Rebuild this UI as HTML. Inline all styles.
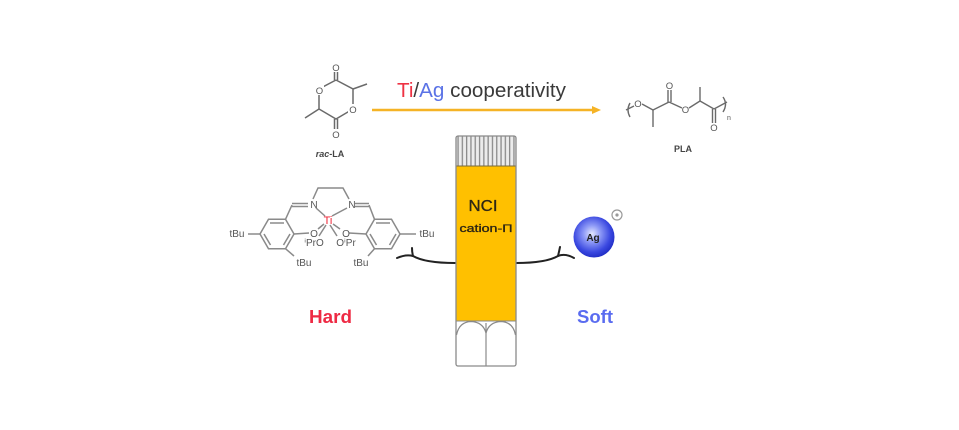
<!DOCTYPE html>
<html><head><meta charset="utf-8"><style>
html,body{margin:0;padding:0;background:#fff;}
svg{display:block;}
text{font-family:"Liberation Sans",sans-serif;}
</style></head><body>
<svg width="959" height="430" viewBox="0 0 959 430" xmlns="http://www.w3.org/2000/svg">
<defs>
<pattern id="hatch" x="456" y="0" width="4.3" height="10" patternUnits="userSpaceOnUse">
<rect width="4.3" height="10" fill="#ececec"/>
<rect x="1.4" width="1.3" height="10" fill="#8a8a8a"/>
</pattern>
<radialGradient id="ag" cx="45%" cy="42%" r="60%">
<stop offset="0" stop-color="#e4e8ff"/>
<stop offset="0.35" stop-color="#8c98f6"/>
<stop offset="0.75" stop-color="#3a48e0"/>
<stop offset="1" stop-color="#1f2cc4"/>
</radialGradient>
</defs>
<rect width="959" height="430" fill="#fff"/>

<!-- rac-LA -->
<g stroke="#6a6a6a" stroke-width="1.5" fill="none">
<polyline points="336,80 353,89 353,109 336,119 319,109 319,89 336,80"/>
<line x1="334.5" y1="80" x2="334.5" y2="70"/><line x1="337.5" y1="80" x2="337.5" y2="70"/>
<line x1="334.5" y1="119" x2="334.5" y2="130"/><line x1="337.5" y1="119" x2="337.5" y2="130"/>
<line x1="353" y1="89" x2="367" y2="84"/>
<line x1="319" y1="109" x2="305" y2="118"/>
</g>
<g font-size="9.5" fill="#555" text-anchor="middle">
<rect x="331" y="62" width="10" height="10" fill="#fff"/>
<text x="336" y="71">O</text>
<rect x="331" y="129" width="10" height="10" fill="#fff"/>
<text x="336" y="138">O</text>
<rect x="315" y="85" width="9" height="10" fill="#fff"/>
<text x="319.5" y="94">O</text>
<rect x="348" y="104" width="10" height="10" fill="#fff"/>
<text x="353" y="113">O</text>
</g>
<text x="330" y="157" font-size="9" font-weight="bold" fill="#444" text-anchor="middle"><tspan font-style="italic">rac</tspan>-LA</text>

<!-- arrow -->
<line x1="372" y1="110" x2="594" y2="110" stroke="#F5B325" stroke-width="2.5"/>
<polygon points="601,110 592,106 592,114" fill="#F5B325"/>
<text x="397" y="97" font-size="20" textLength="169" lengthAdjust="spacingAndGlyphs" fill="#3a3a3a"><tspan fill="#ee3344">Ti</tspan>/<tspan fill="#5a72e6">Ag</tspan> cooperativity</text>

<!-- PLA -->
<g stroke="#6a6a6a" stroke-width="1.4" fill="none">
<path d="M630,103 Q626,110 630,117"/>
<line x1="626" y1="110" x2="634" y2="106"/>
<line x1="642" y1="104" x2="653" y2="110"/>
<line x1="653" y1="110" x2="653" y2="127"/>
<line x1="653" y1="110" x2="669" y2="102"/>
<line x1="668" y1="102" x2="668" y2="90"/><line x1="671" y1="102" x2="671" y2="90"/>
<line x1="669" y1="102" x2="682" y2="108"/>
<line x1="689" y1="108" x2="700" y2="101"/>
<line x1="700" y1="101" x2="700" y2="87"/>
<line x1="700" y1="101" x2="714" y2="109"/>
<line x1="712.5" y1="109" x2="712.5" y2="123"/><line x1="715.5" y1="109" x2="715.5" y2="123"/>
<line x1="714" y1="109" x2="727" y2="102"/>
<path d="M723,97 Q728,104 723,112"/>
</g>
<g font-size="9.5" fill="#555" text-anchor="middle">
<text x="638" y="107">O</text>
<text x="669.5" y="89">O</text>
<text x="685.5" y="113">O</text>
<text x="714" y="131">O</text>
<text x="729" y="120" font-size="7">n</text>
</g>
<text x="683" y="152" font-size="9" font-weight="bold" fill="#444" text-anchor="middle">PLA</text>

<!-- Ti complex -->
<g stroke="#8a8a8a" stroke-width="1.5" fill="none">
<polyline points="313,199 318,188 343,188 349,199"/>
<line x1="292" y1="203.5" x2="308" y2="203.5"/><line x1="292" y1="206.5" x2="308" y2="206.5"/>
<line x1="292" y1="205" x2="285.5" y2="219.3"/>
<line x1="355" y1="203.5" x2="369" y2="203.5"/><line x1="355" y1="206.5" x2="369" y2="206.5"/>
<line x1="369" y1="205" x2="374.5" y2="219.3"/>
<polygon points="260,234 268.5,219.3 285.5,219.3 294,234 285.5,248.7 268.5,248.7"/>
<line x1="270" y1="223" x2="284" y2="223"/>
<line x1="290" y1="234" x2="283.5" y2="245"/>
<line x1="264" y1="234" x2="270.5" y2="245"/>
<polygon points="366,234 374.5,219.3 391.5,219.3 400,234 391.5,248.7 374.5,248.7"/>
<line x1="376" y1="223" x2="390" y2="223"/>
<line x1="370" y1="234" x2="376.5" y2="245"/>
<line x1="396" y1="234" x2="389.5" y2="245"/>
<line x1="260" y1="234" x2="248" y2="234"/>
<line x1="400" y1="234" x2="416" y2="234"/>
<line x1="285.5" y1="248.7" x2="294" y2="256"/>
<line x1="374.5" y1="248.7" x2="368" y2="256"/>
<line x1="294" y1="234" x2="309" y2="233"/>
<line x1="366" y1="234" x2="349" y2="233"/>
<line x1="316" y1="208" x2="325" y2="216"/>
<line x1="347" y1="208" x2="332" y2="216"/>
<line x1="324" y1="224" x2="318" y2="229"/>
<line x1="333" y1="224" x2="340" y2="229"/>
<line x1="326" y1="225" x2="319" y2="236"/>
<line x1="330" y1="225" x2="337" y2="236"/>
</g>
<g font-size="10" fill="#555" text-anchor="middle">
<text x="314" y="208">N</text>
<text x="352" y="208">N</text>
<text x="314" y="237">O</text>
<text x="346" y="237">O</text>
<text x="314" y="246">ⁱPrO</text>
<text x="346" y="246">OⁱPr</text>
<text x="237" y="237">tBu</text>
<text x="427" y="237">tBu</text>
<text x="304" y="266">tBu</text>
<text x="361" y="266">tBu</text>
</g>
<text x="328" y="224" font-size="11" fill="#ee2233" text-anchor="middle">Ti</text>

<!-- connectors -->
<g stroke="#222" stroke-width="2" fill="none" stroke-linecap="round">
<path d="M397,258 Q406,254 413,256 Q425,263 455,263"/>
<path d="M413,256 Q412,252 412,248"/>
<path d="M516,263 Q546,263 558,256 Q565,253 574,258"/>
<path d="M558,256 Q559,252 560,247"/>
</g>

<!-- column -->
<rect x="456" y="136" width="60" height="30" fill="url(#hatch)"/>
<rect x="456" y="166" width="60" height="155" fill="#FFC000"/>
<rect x="456" y="321" width="60" height="45" fill="#fff"/>
<line x1="456" y1="166" x2="516" y2="166" stroke="#7a6a3a" stroke-width="1"/>
<line x1="456" y1="321" x2="516" y2="321" stroke="#8a8a8a" stroke-width="1"/>
<line x1="486" y1="323" x2="486" y2="366" stroke="#8a8a8a" stroke-width="1.2"/>
<path d="M456.5,335 Q459,322 471,321.5 Q483,322 486,333 Q489,322 501,321.5 Q513,322 515.5,335" fill="none" stroke="#8a8a8a" stroke-width="1.2"/>
<rect x="456" y="136" width="60" height="230" rx="2" fill="none" stroke="#8a8a8a" stroke-width="1.3"/>
<text x="483" y="211" font-size="16" fill="#2e2614" stroke="#2e2614" stroke-width="0.3" text-anchor="middle" textLength="29" lengthAdjust="spacingAndGlyphs">NCI</text>
<text x="486" y="232" font-size="11" fill="#2e2614" stroke="#2e2614" stroke-width="0.35" text-anchor="middle" textLength="53" lengthAdjust="spacingAndGlyphs">cation-Π</text>

<!-- Ag -->
<circle cx="594" cy="237" r="20.5" fill="url(#ag)"/>
<text x="593" y="241" font-size="10" font-weight="bold" fill="#222" text-anchor="middle">Ag</text>
<circle cx="617" cy="215" r="5" fill="#fff" stroke="#999" stroke-width="1.2"/>
<circle cx="617" cy="215" r="1.6" fill="#999"/>

<!-- labels -->
<text x="309" y="323" font-size="18" font-weight="bold" fill="#ee2a44" textLength="43" lengthAdjust="spacingAndGlyphs">Hard</text>
<text x="577" y="323" font-size="18" font-weight="bold" fill="#5a6cf0" textLength="36" lengthAdjust="spacingAndGlyphs">Soft</text>
</svg>
</body></html>
